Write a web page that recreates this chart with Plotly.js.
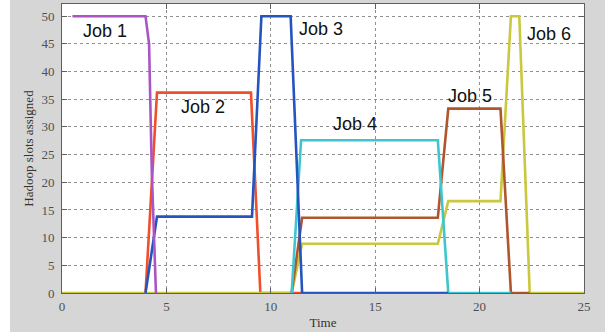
<!DOCTYPE html>
<html>
<head>
<meta charset="utf-8">
<script src="https://cdn.plot.ly/plotly-3.0.1.min.js"></script>
<style>
html,body{margin:0;padding:0;background:#ffffff;}
#chart{position:absolute;left:10px;top:0;width:595px;height:332px;}
</style>
</head>
<body>
<div id="chart"></div>
<script>
// Data (time, slots)
const job1X = [0.5, 4.0, 4.17, 4.3, 4.5];
const job1Y = [50, 50, 45, 22, 0];
const job2X = [4.0, 4.55, 9.05, 9.5, 11.5];
const job2Y = [0, 36.2, 36.2, 0, 0];
const job3X = [4.0, 4.55, 9.1, 9.55, 10.95, 11.5, 18.5];
const job3Y = [0, 13.8, 13.8, 50, 50, 0, 0];
const job4X = [11.0, 11.45, 18.0, 18.5, 21.5];
const job4Y = [0, 27.6, 27.6, 0, 0];
const job5X = [11.0, 11.5, 18.0, 18.5, 21.0, 21.5, 22.4];
const job5Y = [0, 13.6, 13.6, 33.3, 33.3, 0, 0];
const job6X = [0, 11.0, 11.5, 18.0, 18.5, 21.0, 21.5, 21.9, 22.4, 25];
const job6Y = [0, 0, 8.9, 8.9, 16.6, 16.6, 50, 50, 0, 0];

const jobNames = ["Job 1", "Job 2", "Job 3", "Job 4", "Job 5", "Job 6"];
const labelX = [2.05, 6.75, 12.4, 14.05, 19.55, 23.3];
const labelY = [47.3, 33.6, 47.6, 30.5, 35.5, 46.8];

const xTicks = [0, 5, 10, 15, 20, 25];
const yTicks = [0, 5, 10, 15, 20, 25, 30, 35, 40, 45, 50];

function tr(x, y, color) {
  return {x: x, y: y, type: 'scatter', mode: 'lines',
          line: {color: color, width: 2.6}, hoverinfo: 'skip', showlegend: false};
}

const data = [
  tr(job2X, job2Y, '#ef4f2b'),
  tr(job6X, job6Y, '#c9c83f'),
  tr(job5X, job5Y, '#b0562f'),
  tr(job4X, job4Y, '#3ec6cf'),
  tr(job3X, job3Y, '#2654bf'),
  tr(job1X, job1Y, '#a955c6')
];

const annotations = jobNames.map((t, i) => ({
  x: labelX[i], y: labelY[i], xref: 'x', yref: 'y', text: t, showarrow: false,
  font: {family: 'Liberation Sans, Arial, sans-serif', size: 18, color: '#111'},
  xanchor: 'center', yanchor: 'middle'
}));

const axisCommon = {
  showline: true, linecolor: '#606060', linewidth: 1, mirror: 'ticks',
  ticks: 'inside', ticklen: 5, tickcolor: '#606060',
  showgrid: true, gridcolor: '#8f8f8f', griddash: 'dot', gridwidth: 1,
  zeroline: false, fixedrange: true,
  tickfont: {family: 'Liberation Serif, Times New Roman, serif', size: 13, color: '#505050'}
};

const layout = {
  width: 595, height: 332,
  margin: {l: 52, r: 21, t: 4, b: 39},
  paper_bgcolor: '#d6d6d6',
  plot_bgcolor: '#ffffff',
  showlegend: false,
  xaxis: Object.assign({}, axisCommon, {
    range: [0, 25], tickvals: xTicks, ticktext: xTicks.map(String),
    ticklabelstandoff: 1,
    title: {text: 'Time', standoff: 5,
            font: {family: 'Liberation Serif, Times New Roman, serif', size: 13, color: '#333'}}
  }),
  yaxis: Object.assign({}, axisCommon, {
    range: [0, 52.2], tickvals: yTicks, ticktext: yTicks.map(String),
    ticklabelstandoff: 4,
    title: {text: 'Hadoop slots assigned', standoff: 4,
            font: {family: 'Liberation Serif, Times New Roman, serif', size: 13, color: '#333'}}
  }),
  annotations: annotations
};

Plotly.newPlot('chart', data, layout, {displayModeBar: false, staticPlot: true});
</script>
</body>
</html>
